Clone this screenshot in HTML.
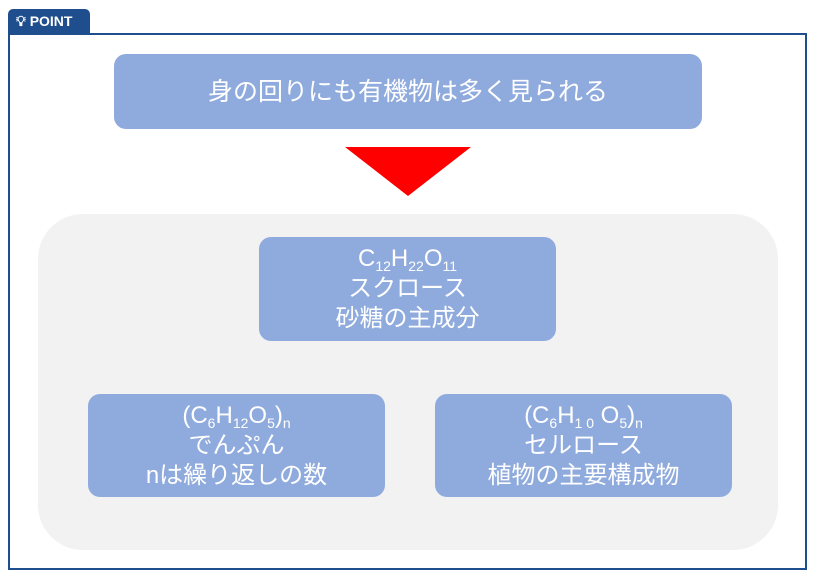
<!DOCTYPE html>
<html><head><meta charset="utf-8"><style>
body{margin:0;width:821px;height:578px;background:#fff;font-family:"Liberation Sans","Noto Sans CJK JP",sans-serif;position:relative;overflow:hidden}
.a{position:absolute}
.tab{left:8px;top:9px;width:82px;height:25px;background:#1f4e8f;border-radius:5px 5px 0 0;color:#fff;font-weight:bold;font-size:14px;line-height:25px;text-indent:8px}
.frame{left:8px;top:33px;width:795px;height:533px;border:2px solid #1f4e8f}
.box{background:#8faadc;border-radius:12px;color:#fff;text-align:center;display:flex;flex-direction:column;justify-content:center;font-size:24px;line-height:30px}
sub{font-size:14px;vertical-align:-5px;line-height:0}
</style></head><body>
<div class="a tab">&#x1F4A1;&#xFE0E; POINT</div>
<div class="a frame"></div>
<div class="a box" style="left:114px;top:54px;width:588px;height:75px;font-size:25px">身の回りにも有機物は多く見られる</div>
<svg class="a" style="left:0;top:0" width="821" height="578"><polygon points="345,147 471,147 408,196" fill="#ff0000"/></svg>
<div class="a" style="left:38px;top:214px;width:740px;height:336px;background:#f2f2f2;border-radius:45px"></div>
<div class="a box" style="left:259px;top:237px;width:297px;height:104px">
<div>C<sub>12</sub>H<sub>22</sub>O<sub>11</sub></div><div>スクロース</div><div>砂糖の主成分</div></div>
<div class="a box" style="left:88px;top:394px;width:297px;height:103px">
<div>(C<sub>6</sub>H<sub>12</sub>O<sub>5</sub>)<sub>n</sub></div><div>でんぷん</div><div>nは繰り返しの数</div></div>
<div class="a box" style="left:435px;top:394px;width:297px;height:103px">
<div>(C<sub>6</sub>H<sub>1 0</sub> O<sub>5</sub>)<sub>n</sub></div><div>セルロース</div><div>植物の主要構成物</div></div>
</body></html>
